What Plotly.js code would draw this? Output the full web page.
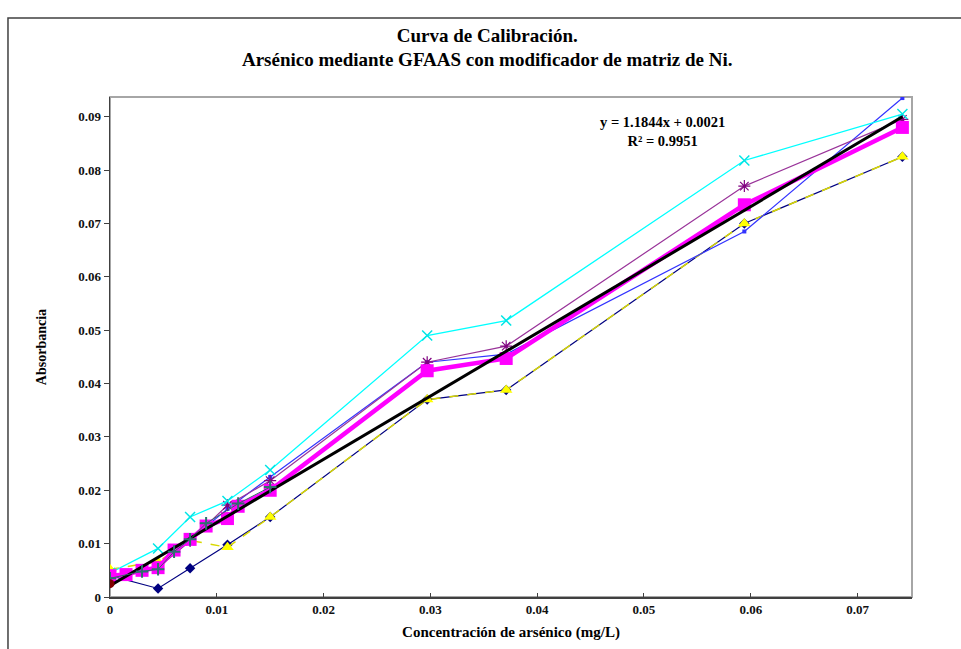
<!DOCTYPE html>
<html>
<head>
<meta charset="utf-8">
<script src="https://cdn.plot.ly/plotly-3.0.1.min.js"></script>
<style>html,body{margin:0;padding:0;background:#fff;}#chart{width:961px;height:649px;}</style>
</head>
<body>
<div id="chart"></div>
<script>
// Concentrations (mg/L)
const xAll = [0, 0.0015, 0.003, 0.0045, 0.006, 0.0075, 0.009, 0.011, 0.012, 0.015, 0.0297, 0.0371, 0.0594, 0.0742];
const xSub = [0, 0.0045, 0.0075, 0.011, 0.015, 0.0297, 0.0371, 0.0594, 0.0742];
const xTeal = [0, 0.003, 0.0045, 0.006, 0.0075, 0.009, 0.012, 0.015];
const xBrown = [0];
const xFit = [0, 0.0742];

// Absorbance series
const yMagenta = [0.0040, 0.0042, 0.0050, 0.0055, 0.0088, 0.0108, 0.0133, 0.0147, 0.0170, 0.0200, 0.0424, 0.0447, 0.0735, 0.0880];
const yCyan    = [0.0045, 0.0091, 0.0150, 0.0180, 0.0238, 0.0490, 0.0518, 0.0818, 0.0905];
const yPurple  = [0.0035, 0.0055, 0.0105, 0.0172, 0.0218, 0.0440, 0.0470, 0.0770, 0.0895];
const yBlue    = [0.0038, 0.0056, 0.0107, 0.0165, 0.0225, 0.0440, 0.0455, 0.0685, 0.0935];
const yYellow  = [0.0052, 0.0066, 0.0106, 0.0093, 0.0150, 0.0370, 0.0388, 0.0700, 0.0825];
const yNavy    = [0.0040, 0.0016, 0.0054, 0.0098, 0.0150, 0.0370, 0.0388, 0.0700, 0.0825];
const yTeal    = [0.0035, 0.0048, 0.0052, 0.0085, 0.0108, 0.0138, 0.0175, 0.0206];
const yBrown   = [0.0025];
const yFit     = [0.0021, 0.0900];

const xTicks = [0, 0.01, 0.02, 0.03, 0.04, 0.05, 0.06, 0.07];
const xTickText = ['0', '0.01', '0.02', '0.03', '0.04', '0.05', '0.06', '0.07'];
const yTicks = [0, 0.01, 0.02, 0.03, 0.04, 0.05, 0.06, 0.07, 0.08, 0.09];
const yTickText = ['0', '0.01', '0.02', '0.03', '0.04', '0.05', '0.06', '0.07', '0.08', '0.09'];

const titleText = 'Curva de Calibración.<br>Arsénico mediante GFAAS con modificador de matriz de Ni.';
const fitText = 'y = 1.1844x + 0.0021<br>R² = 0.9951';
const xTitle = 'Concentración de arsénico (mg/L)';
const yTitle = 'Absorbancia';

const F = 'Liberation Serif, Times New Roman, serif';

const traces = [
  {x: xSub, y: yNavy, mode: 'lines+markers', line: {color: '#000080', width: 1.2},
   marker: {symbol: 'diamond', size: 8, color: '#000080'}},
  {x: xSub, y: yYellow, mode: 'lines+markers', line: {color: '#d8d800', width: 1.5, dash: 'dash'},
   marker: {symbol: 'triangle-up', size: 11, color: '#ffff00'}},
  {x: xSub, y: yBlue, mode: 'lines+markers', line: {color: '#3333ff', width: 1.2},
   marker: {symbol: 'square', size: 4, color: '#3333ff'}},
  {x: xSub, y: yPurple, mode: 'lines+markers', line: {color: '#993399', width: 1.2},
   marker: {symbol: 'asterisk-open', size: 10, color: '#800080', line: {color: '#800080', width: 1.2}}},
  {x: xSub, y: yCyan, mode: 'lines+markers', line: {color: '#00ffff', width: 1.3},
   marker: {symbol: 'x-thin-open', size: 10, color: '#00e5e5', line: {color: '#00e5e5', width: 1.5}}},
  {x: xAll, y: yMagenta, mode: 'lines+markers', line: {color: '#ff00ff', width: 4.5},
   marker: {symbol: 'square', size: 13, color: '#ff00ff'}},
  {x: xFit, y: yFit, mode: 'lines', line: {color: '#000000', width: 3}},
  {x: xTeal, y: yTeal, mode: 'lines+markers', line: {color: '#336666', width: 1},
   marker: {symbol: 'cross-thin-open', size: 9, color: '#2f6f6f', line: {color: '#2f6f6f', width: 2}}},
  {x: xBrown, y: yBrown, mode: 'markers',
   marker: {symbol: 'circle', size: 9, color: '#800000'}}
];

const layout = {
  width: 961, height: 649,
  margin: {l: 110, r: 49, t: 97, b: 52},
  paper_bgcolor: '#ffffff', plot_bgcolor: '#ffffff',
  showlegend: false,
  font: {family: F, color: '#000000'},
  title: {text: titleText, font: {family: F, size: 19, weight: 'bold', color: '#000'},
          x: 0.507, xref: 'container', xanchor: 'center', y: 0.936, yref: 'container', yanchor: 'middle'},
  xaxis: {range: [0, 0.0751], tickvals: xTicks, ticktext: xTickText, showgrid: false, zeroline: false,
          showline: true, linecolor: '#404040', linewidth: 1.5,
          ticks: 'inside', ticklen: 4, tickcolor: '#404040',
          tickfont: {family: F, size: 13, weight: 'bold', color: '#111'},
          title: {text: xTitle, font: {family: F, size: 15, weight: 'bold', color: '#000'}, standoff: 10}},
  yaxis: {range: [0, 0.0937], tickvals: yTicks, ticktext: yTickText, showgrid: false, zeroline: false,
          showline: true, linecolor: '#404040', linewidth: 1.5,
          ticks: 'outside', ticklen: 5, tickcolor: '#404040',
          tickfont: {family: F, size: 13, weight: 'bold', color: '#111'},
          title: {text: yTitle, font: {family: F, size: 14, weight: 'bold', color: '#000'}, standoff: 28}},
  shapes: [
    {type: 'rect', xref: 'paper', yref: 'paper', x0: 0, x1: 1, y0: 0, y1: 1,
     line: {color: '#a6a6a6', width: 2}, layer: 'below'},
    {type: 'rect', xref: 'paper', yref: 'paper', x0: -0.1272, x1: 1.3, y0: -0.3, y1: 1.158,
     line: {color: '#404040', width: 1.5}}
  ],
  annotations: [
    {text: fitText, xref: 'paper', yref: 'paper', x: 0.6895, y: 0.93, showarrow: false,
     xanchor: 'center', yanchor: 'middle', align: 'center',
     font: {family: F, size: 14.5, weight: 'bold', color: '#000'}}
  ]
};

Plotly.newPlot('chart', traces, layout, {displayModeBar: false, staticPlot: true});
</script>
</body>
</html>
